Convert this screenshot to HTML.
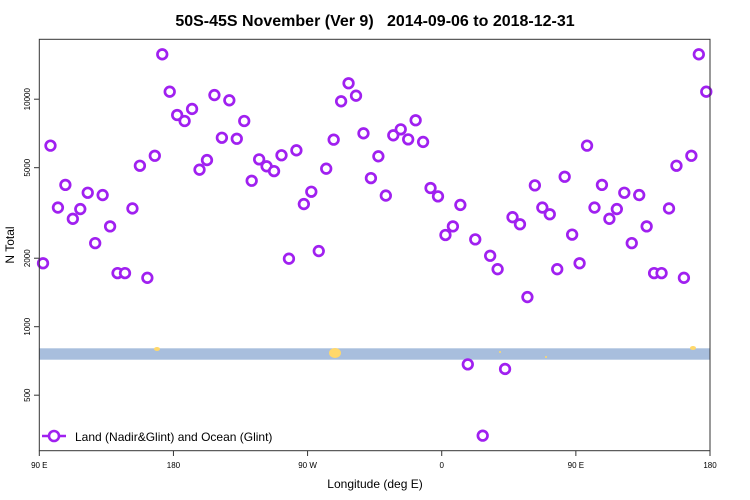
<!DOCTYPE html>
<html><head><meta charset="utf-8"><style>
body{margin:0;background:#fff;}
svg{display:block;font-family:"Liberation Sans",sans-serif;}
</style></head><body>
<svg id="chart" width="750" height="500">
<text x="375" y="26" text-anchor="middle" font-size="16" font-weight="bold" fill="#000" xml:space="preserve">50S-45S November (Ver 9)   2014-09-06 to 2018-12-31</text>
<rect x="39.3" y="348.3" width="670.7" height="11.4" fill="#a8bedd"/>
<g fill="#ffd86b">
<ellipse cx="157" cy="349" rx="3" ry="2"/>
<ellipse cx="335" cy="353" rx="6" ry="5"/>
<circle cx="500" cy="352" r="1"/>
<circle cx="546" cy="357" r="1"/>
<ellipse cx="693" cy="348" rx="3" ry="2"/>
</g>
<g id="axes"></g>
<g id="points"></g>
<rect x="39.3" y="39.3" width="670.7" height="411.4" fill="none" stroke="#333" stroke-width="1"/>
<g>
<line x1="42" y1="436" x2="66" y2="436" stroke="#a020f0" stroke-width="2.5"/>
<circle cx="54" cy="436" r="5" fill="#fff" stroke="#a020f0" stroke-width="2.6"/>
<text x="75" y="441" font-size="12" fill="#000">Land (Nadir&amp;Glint) and Ocean (Glint)</text>
</g>
<text x="375" y="488" text-anchor="middle" font-size="12" fill="#000">Longitude (deg E)</text>
<text x="0" y="0" transform="translate(14,245) rotate(-90)" text-anchor="middle" font-size="12" fill="#000">N Total</text>
</svg>
<script>
const lons=[92.5,97.5,102.5,107.5,112.5,117.5,122.5,127.5,132.5,137.5,142.5,147.5,152.5,157.5,162.5,167.5,172.5,177.5,182.5,187.5,192.5,197.5,202.5,207.5,212.5,217.5,222.5,227.5,232.5,237.5,242.5,247.5,252.5,257.5,262.5,267.5,272.5,277.5,282.5,287.5,292.5,297.5,302.5,307.5,312.5,317.5,322.5,327.5,332.5,337.5,342.5,347.5,352.5,357.5,362.5,367.5,372.5,377.5,382.5,387.5,392.5,397.5,402.5,407.5,412.5,417.5,422.5,427.5,432.5,437.5,442.5,447.5,452.5,457.5,462.5,467.5,472.5,477.5,482.5,487.5,492.5,497.5,502.5,507.5,512.5,517.5,522.5,527.5,532.5,537.5];
const totals=[1900,6250,3340,4200,2980,3290,3880,2330,3790,2760,1720,1720,3310,5100,1640,5640,15750,10790,8520,8020,9060,4900,5400,10430,6770,9890,6700,8020,4380,5440,5070,4830,5670,1990,5960,3460,3920,2150,4950,6640,9790,11750,10360,7080,4500,5610,3770,6940,7370,6660,8080,6490,4070,3740,2530,2760,3430,683,2420,332,2050,1790,652,3030,2820,1350,4180,3340,3120,1790,4560,2540,1900,6250,3340,4200,2980,3290,3880,2330,3790,2760,1720,1720,3310,5100,1640,5640,15750,10790];
const yTicks=[500,1000,2000,5000,10000];
const xTickLons=[90,180,270,360,450,540];
const xTickLabels=["90 E","180","90 W","0","90 E","180"];
const X0=39.3,X1=710,Y0=450.7,Y1=39.3,LMIN=90,LMAX=540;
const VMIN=1000*Math.pow(10,(326.7-450.7)/227.5),VMAX=1000*Math.pow(10,(326.7-39.3)/227.5);
function xs(l){return X0+(l-LMIN)/(LMAX-LMIN)*(X1-X0);}
function ys(v){return Y0-(Math.log10(v)-Math.log10(VMIN))/(Math.log10(VMAX)-Math.log10(VMIN))*(Y0-Y1);}
const NS="http://www.w3.org/2000/svg";
const axes=document.getElementById('axes');
const pts=document.getElementById('points');
function mk(t,a){const e=document.createElementNS(NS,t);for(const k in a)e.setAttribute(k,a[k]);return e;}
yTicks.forEach(v=>{
  const y=ys(v);
  const t=mk('line',{x1:34,x2:39.3,y1:y,y2:y,stroke:'#333','stroke-width':1});
  
  
  axes.appendChild(t);
  const lb=mk('text',{transform:`translate(30,${y}) rotate(-90)`,'text-anchor':'middle','font-size':8,fill:'#000'});
  lb.textContent=String(v);
  
  
  axes.appendChild(lb);
});
xTickLons.forEach((l,i)=>{
  const x=xs(l);
  const t=mk('line',{x1:x,x2:x,y1:450.7,y2:456,stroke:'#333','stroke-width':1});
  
  
  axes.appendChild(t);
  const lb=mk('text',{x:x,y:468,'text-anchor':'middle','font-size':8,fill:'#000'});
  lb.textContent=xTickLabels[i];
  
  
  axes.appendChild(lb);
});
lons.forEach((l,i)=>{
  const c=mk('circle',{cx:xs(l),cy:ys(totals[i]),r:4.8,fill:'#fff',stroke:'#a020f0','stroke-width':2.7});
  
  
  pts.appendChild(c);
});
</script>
</body></html>
